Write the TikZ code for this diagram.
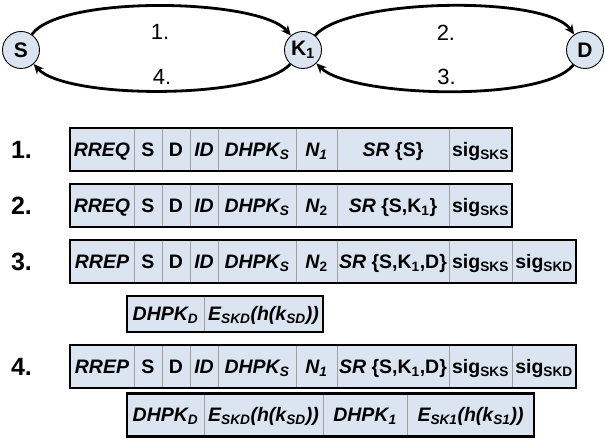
\documentclass[tikz,border=0pt]{standalone}
\usepackage{fontspec}
\setmainfont{Liberation Sans}
\usetikzlibrary{arrows.meta,positioning,calc}
\definecolor{cellblue}{RGB}{219,229,241}
\definecolor{rulegray}{RGB}{160,160,160}
\newcommand{\cf}[1]{\textit{#1}}
\newcommand{\ssub}[1]{\textsubscript{#1}}

\begin{document}
\begin{tikzpicture}[x=1pt,y=1pt,
    party/.style={circle,draw,line width=0.9pt,fill=cellblue,minimum size=37pt,inner sep=0pt,
      font=\fontsize{21}{24}\selectfont\bfseries},
    msg/.style={-{Stealth[length=10pt,width=9pt]},line width=2.8pt},
    step lbl/.style={font=\fontsize{22}{24}\selectfont},
    rownum/.style={font=\fontsize{25}{28}\selectfont\bfseries},
    cell/.style={draw=rulegray,line width=0.7pt,fill=cellblue,minimum height=43pt,inner sep=0pt,
      outer sep=0pt,text height=16pt,text depth=2.5pt,font=\fontsize{19.5}{22}\selectfont\bfseries},
    frame/.style={line width=2.3pt}]
  \useasboundingbox (0,0) rectangle (605,443);
  % parties
  \node[party] (S) at (21,393) {S};
  \node[party] (K1) at (303,393) {K\ssub{1}};
  \node[party] (D) at (585,393) {D};
  \draw[msg] (S) to[out=55,in=130,looseness=0.48] node[step lbl,midway,below=14pt] (l1) {1.} (K1);
  \draw[msg] (K1) to[out=50,in=125,looseness=0.48] node[step lbl,midway,below=14pt] (l2) {2.} (D);
  \draw[msg] (D) to[out=-128,in=-45,looseness=0.48] node[step lbl,midway,above=2pt] (l3) {3.} (K1);
  \draw[msg] (K1) to[out=-132,in=-48,looseness=0.48] node[step lbl,midway,above=2pt] (l4) {4.} (S);
  % message 1
  \node[rownum] (m1) at (21.5,293.5) {1.};
  \foreach \a/\b/\t [count=\i] in {70/134/\cf{RREQ}, 134/162/S, 162/190/D, 190/218/\cf{ID},
      218/296/{\cf{DHPK\ssub{S}}}, 296/337/{\cf{N\ssub{1}}}, 337/449/{\cf{SR} \{S\}}, 449/512/{sig\ssub{SKS}}}
    \node[cell,minimum width=\b-\a] (r1-\i) at ({(\a+\b)/2},293.5) {\t};
  \draw[frame] (r1-1.north west) rectangle (r1-8.south east);
  % message 2
  \node[rownum] (m2) at (21.5,237.5) {2.};
  \foreach \a/\b/\t [count=\i] in {70/134/\cf{RREQ}, 134/162/S, 162/190/D, 190/218/\cf{ID},
      218/296/{\cf{DHPK\ssub{S}}}, 296/337/{\cf{N}\ssub{2}}, 337/449/{\cf{SR} \{S,K\ssub{1}\}}, 449/512/{sig\ssub{SKS}}}
    \node[cell,minimum width=\b-\a] (r2-\i) at ({(\a+\b)/2},237.5) {\t};
  \draw[frame] (r2-1.north west) rectangle (r2-8.south east);
  % message 3
  \node[rownum] (m3) at (21.5,181.5) {3.};
  \foreach \a/\b/\t [count=\i] in {70/134/\cf{RREP}, 134/162/S, 162/190/D, 190/218/\cf{ID},
      218/296/{\cf{DHPK\ssub{S}}}, 296/337/{\cf{N}\ssub{2}}, 337/449/{\cf{SR} \{S,K\ssub{1},D\}},
      449/512/{sig\ssub{SKS}}, 512/576/{sig\ssub{SKD}}}
    \node[cell,minimum width=\b-\a] (r3-\i) at ({(\a+\b)/2},181.5) {\t};
  \draw[frame] (r3-1.north west) rectangle (r3-9.south east);
  \foreach \a/\b/\t [count=\i] in {127/204/{\cf{DHPK\ssub{D}}}, 204/323/{\cf{E\ssub{SKD}(h(k\ssub{SD}))}}}
    \node[cell,minimum width=\b-\a,minimum height=36pt] (e3-\i) at ({(\a+\b)/2},129) {\t};
  \draw[frame] (e3-1.north west) rectangle (e3-2.south east);
  % message 4
  \node[rownum] (m4) at (21.5,76.5) {4.};
  \foreach \a/\b/\t [count=\i] in {70/134/\cf{RREP}, 134/162/S, 162/190/D, 190/218/\cf{ID},
      218/296/{\cf{DHPK\ssub{S}}}, 296/337/{\cf{N\ssub{1}}}, 337/449/{\cf{SR} \{S,K\ssub{1},D\}},
      449/512/{sig\ssub{SKS}}, 512/576/{sig\ssub{SKD}}}
    \node[cell,minimum width=\b-\a] (r4-\i) at ({(\a+\b)/2},76.5) {\t};
  \draw[frame] (r4-1.north west) rectangle (r4-9.south east);
  \foreach \a/\b/\t [count=\i] in {127/204/{\cf{DHPK\ssub{D}}}, 204/323/{\cf{E\ssub{SKD}(h(k\ssub{SD}))}},
      323/407/{\cf{DHPK\ssub{1}}}, 407/534/{\cf{E\ssub{SK1}(h(k\ssub{S1}))}}}
    \node[cell,minimum width=\b-\a] (e4-\i) at ({(\a+\b)/2},28) {\t};
  \draw[frame] (e4-1.north west) rectangle (e4-4.south east);
\end{tikzpicture}
\end{document}
